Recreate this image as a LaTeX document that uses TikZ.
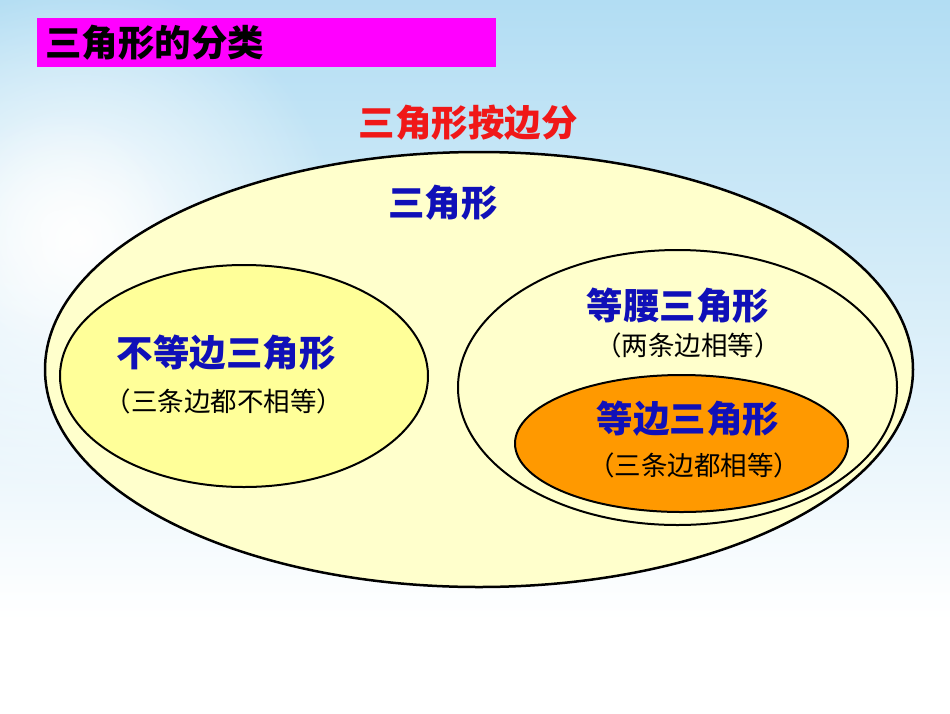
\documentclass[tikz,border=0pt]{standalone}
\usepackage{fontspec}
\newfontfamily\cjk{Noto Sans CJK SC}
\usetikzlibrary{shapes.geometric,fadings}
\definecolor{skyblue}{HTML}{B2DDF3}
\definecolor{outerfill}{HTML}{FFFFCC}
\definecolor{innerfill}{HTML}{FFFF99}
\definecolor{orangefill}{HTML}{FF9900}
\definecolor{titlemag}{HTML}{FF00FF}
\definecolor{bluetext}{HTML}{1010B8}
\definecolor{redtext}{HTML}{F01818}
\tikzfading[name=glowfade, inner color=transparent!0, outer color=transparent!100]
\tikzset{
  set/.style={ellipse, draw=black, inner sep=0pt},
  big/.style={font=\cjk\fontsize{36.5}{40}\selectfont\bfseries, inner sep=0pt},
  small/.style={font=\cjk\fontsize{26.5}{30}\selectfont, inner sep=0pt, text=black},
}
\begin{document}
\begin{tikzpicture}[x=1pt,y=-1pt]
\useasboundingbox (0,0) rectangle (950,713);
% background sky
\fill[white] (0,0) rectangle (950,713);
\shade[top color=skyblue, bottom color=white] (0,0) rectangle (950,620);
\fill[white, path fading=glowfade] (80,240) circle (260);
\fill[white, path fading=glowfade, opacity=0.6] (60,230) circle (120);
% title bar
\node[fill=titlemag, minimum width=459pt, minimum height=49pt, inner sep=0pt, anchor=north west] (bar) at (37,18) {};
\node[big, text=black, anchor=west] (title) at (45,43) {三角形的分类};
% heading
\node[big, text=redtext] (head) at (468,123) {三角形按边分};
% sets
\node[set, line width=2.5pt, fill=outerfill, minimum width=868pt, minimum height=435pt] (outer) at (479,369.5) {};
\node[big, text=bluetext] (all) at (443,203) {三角形};
\node[set, line width=2pt, fill=innerfill, minimum width=368pt, minimum height=222pt] (scalene) at (244,376) {};
\node[big, text=bluetext] (scl) at (226,353) {不等边三角形};
\node[small] (scld) at (224,401) {（三条边都不相等）};
\node[set, line width=2pt, fill=outerfill, minimum width=439pt, minimum height=275pt] (iso) at (677.5,387.5) {};
\node[big, text=bluetext] (isol) at (678,306) {等腰三角形};
\node[small] (isod) at (688,345) {（两条边相等）};
\node[set, line width=2pt, fill=orangefill, minimum width=333pt, minimum height=137pt] (equi) at (681.5,443.5) {};
\node[big, text=bluetext] (equil) at (688,419) {等边三角形};
\node[small] (equid) at (694,465) {（三条边都相等）};
\end{tikzpicture}
\end{document}
